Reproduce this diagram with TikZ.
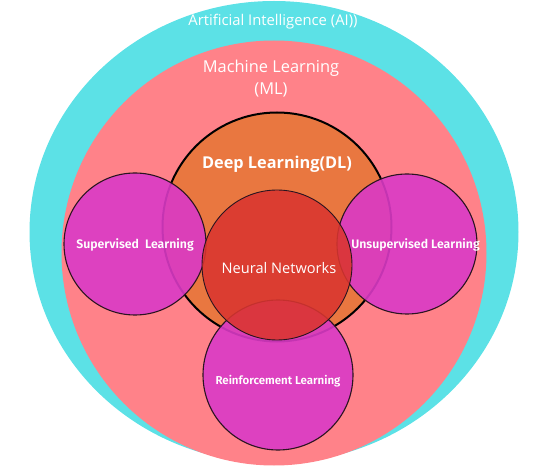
\documentclass[tikz,border=0pt]{standalone}
\usepackage{fontspec}
\setmainfont{Open Sans}
\newfontfamily\firab{Fira Sans}[UprightFont=* SemiBold]
\definecolor{aicyan}{HTML}{5CE1E6}
\definecolor{mlpink}{HTML}{FF8289}
\definecolor{dlorange}{HTML}{E97740}
\definecolor{nnred}{HTML}{DA352F}
\definecolor{lmag}{HTML}{DA3AC6}
\definecolor{edge}{HTML}{2A1420}
\begin{document}
\begin{tikzpicture}[x=1pt,y=-1pt,
  lbl/.style={text=white,inner sep=0pt},
  mag/.style={fill=lmag,fill opacity=0.9,draw=edge,line width=1.1pt,draw opacity=1}]
\useasboundingbox (0,0) rectangle (547,476);
\fill[aicyan] (274,232) ellipse [x radius=244.5,y radius=231];
\fill[mlpink] (274,253) circle [radius=212.5];
\fill[dlorange,draw=black,line width=2pt] (277,227) circle [radius=114.5];
\path[mag] (135,244) circle [radius=71];
\path[mag] (407,244) circle [radius=70];
\path[mag] (278,375) circle [radius=75];
\path[fill=nnred,fill opacity=0.88,draw=edge,line width=0.9pt] (277,265) circle [radius=75];
\node[lbl,font=\fontsize{14.8}{17}\selectfont] (ai) at (273,22) {Artificial Intelligence (AI))};
\node[lbl,font=\fontsize{16.4}{22}\selectfont,align=center] (ml) at (271,79) {Machine Learning\\(ML)};
\node[lbl,font=\bfseries\fontsize{16.3}{18}\selectfont] (dl) at (277,164) {Deep Learning(DL)};
\node[lbl,font=\fontsize{14.6}{17}\selectfont] (nn) at (279,268) {Neural Networks};
\node[lbl,font=\firab\fontsize{12.3}{14}\selectfont] (sl) at (135,245) {Supervised\ \ Learning};
\node[lbl,font=\firab\fontsize{12.3}{14}\selectfont] (ul) at (415.5,245) {Unsupervised Learning};
\node[lbl,font=\firab\fontsize{11.5}{14}\selectfont] (rl) at (278,381) {Reinforcement Learning};
\end{tikzpicture}
\end{document}
